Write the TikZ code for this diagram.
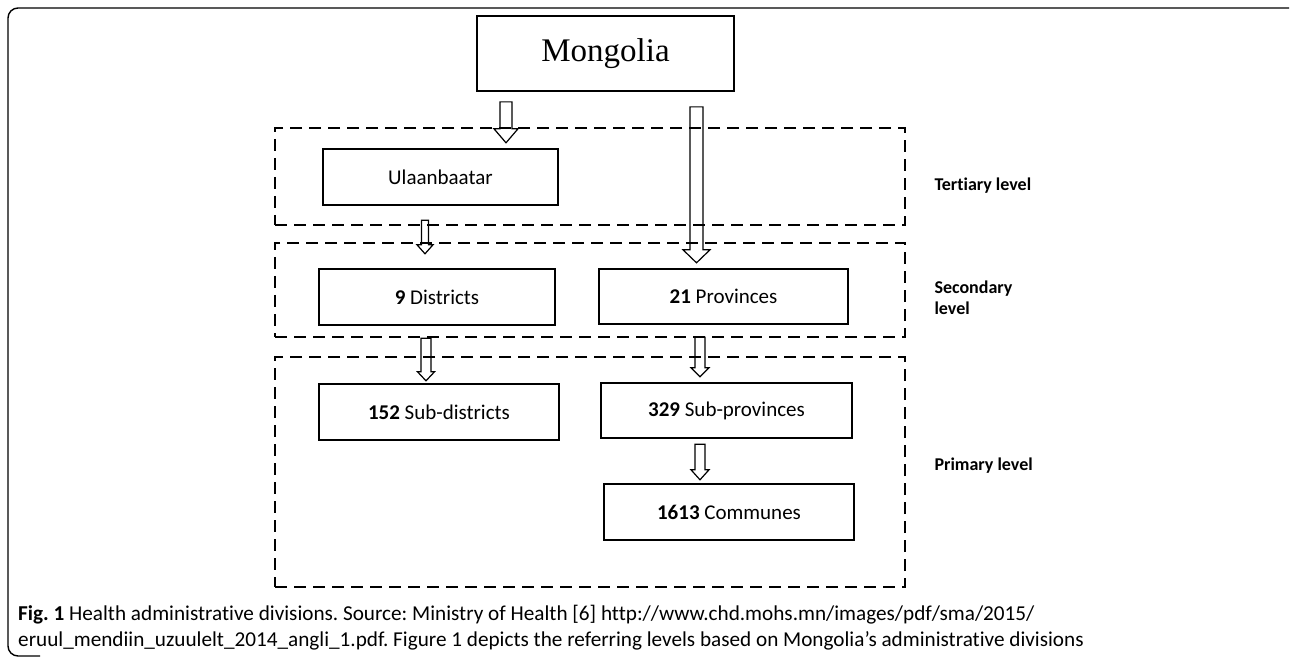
\documentclass[tikz,border=0pt]{standalone}
\usepackage{fontspec}
\setmainfont{Carlito}[Ligatures=NoCommon]
\newfontfamily\serifname{Liberation Serif}
\usetikzlibrary{calc}
\frenchspacing

% hollow block arrow: start, tip, shaft half width, head half width, head length
\newcommand{\hollowarrow}[5]{%
  \draw[hollow] ($(#1)+(-#3,0)$) -- ($(#2)+(-#3,-#5)$) -- ($(#2)+(-#4,-#5)$) -- (#2)
    -- ($(#2)+(#4,-#5)$) -- ($(#2)+(#3,-#5)$) -- ($(#1)+(#3,0)$) -- cycle;}

\begin{document}
\begin{tikzpicture}[x=1pt, y=-1pt,
    unitbox/.style={rectangle, draw, line width=2.4pt, inner sep=0pt, font=\fontsize{21}{24}\selectfont},
    levelbox/.style={rectangle, draw, line width=1.8pt, dash pattern=on 12pt off 7pt, inner sep=0pt},
    levellabel/.style={anchor=west, align=left, font=\fontsize{18}{21}\selectfont\bfseries},
    hollow/.style={draw, line width=1.2pt, line join=miter},
    captext/.style={anchor=base west, inner sep=0pt, font=\fontsize{21.2}{24}\selectfont},
]
    \useasboundingbox (0,0) rectangle (1290,660);
    % outer frame
    \draw[line width=1.4pt, rounded corners=10pt] (1289,8) -- (8,8) -- (8,656) -- (40,656);

    % levels
    \node[levelbox, minimum width=630pt, minimum height=97pt] (tertiary) at (590,176.5) {};
    \node[levelbox, minimum width=630pt, minimum height=94pt] (secondary) at (590,290) {};
    \node[levelbox, minimum width=630pt, minimum height=230pt] (primary) at (590,472) {};
    \node[levellabel] (tertlabel) at (931,186) {Tertiary level};
    \node[levellabel] (seclabel) at (931,298) {Secondary\\level};
    \node[levellabel] (primlabel) at (931,466) {Primary level};

    % units
    \node[rectangle, draw, line width=1.8pt, minimum width=257pt, minimum height=75pt,
          font=\fontsize{33}{36}\selectfont\serifname] (mongolia) at (605.5,53.5) {Mongolia};
    \node[unitbox, minimum width=235pt, minimum height=56pt] (ulaanbaatar) at (440.5,177) {Ulaanbaatar};
    \node[unitbox, minimum width=236pt, minimum height=56pt] (districts) at (437,297) {\textbf{9} Districts};
    \node[unitbox, minimum width=249pt, minimum height=55pt] (provinces) at (723.5,296.5) {\textbf{21} Provinces};
    \node[unitbox, minimum width=240pt, minimum height=56pt] (subdistricts) at (439,412) {\textbf{152} Sub-districts};
    \node[unitbox, minimum width=251pt, minimum height=55pt] (subprovinces) at (726.5,410.5) {\textbf{329} Sub-provinces};
    \node[unitbox, minimum width=250pt, minimum height=56pt] (communes) at (729,512) {\textbf{1613} Communes};

    % arrow ends
    \coordinate (m1) at ($(mongolia.south)+(-99.5,10)$);
    \coordinate (m2) at ($(mongolia.south)+(91,15)$);
    \coordinate (u1) at ($(ulaanbaatar.south)+(-15.5,14)$);
    \coordinate (d1) at ($(districts.south)+(-11,12)$);
    \coordinate (p1) at ($(provinces.south)+(-23.5,12)$);
    \coordinate (sp1) at ($(subprovinces.south)+(-26.5,5)$);

    \hollowarrow{m1}{$(ulaanbaatar.north -| m1)+(0,-5)$}{6}{12}{14}
    \hollowarrow{m2}{$(provinces.north -| m2)+(0,-5)$}{6.5}{13.5}{13}
    \hollowarrow{u1}{$(districts.north -| u1)+(0,-14)$}{3.5}{8}{9}
    \hollowarrow{d1}{$(subdistricts.north -| d1)+(0,-2)$}{5}{8.5}{9}
    \hollowarrow{p1}{$(subprovinces.north -| p1)+(0,-5)$}{5}{9}{9}
    \hollowarrow{sp1}{$(communes.north -| sp1)+(0,-3)$}{5}{9}{10}

    % caption
    \node[captext] (cap1) at (18,620) {\textbf{Fig. 1} Health administrative divisions. Source: Ministry of Health [6] http://www.chd.mohs.mn/images/pdf/sma/2015/};
    \node[captext] (cap2) at (18,646) {eruul\_mendiin\_uzuulelt\_2014\_angli\_1.pdf. Figure 1 depicts the referring levels based on Mongolia’s administrative divisions};
\end{tikzpicture}
\end{document}
